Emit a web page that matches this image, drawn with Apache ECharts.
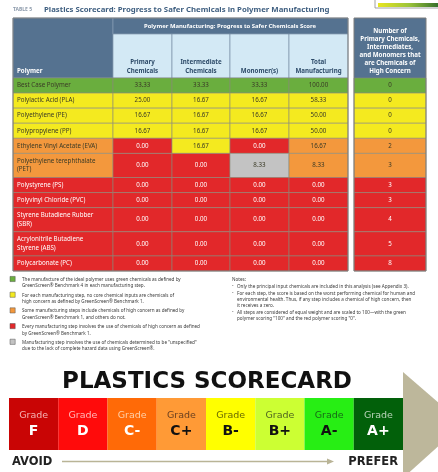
<!DOCTYPE html>
<html>
<head>
<meta charset="utf-8">
<script src="https://cdn.jsdelivr.net/npm/echarts@6/dist/echarts.min.js"></script>
<style>
  html, body { margin: 0; padding: 0; background: #fff; }
  #chart { width: 438px; height: 472px; }
</style>
</head>
<body>
<div id="chart"></div>
<script>
// ---- data ----
const polymers = [
  'Best Case Polymer',
  'Polylactic Acid (PLA)',
  'Polyethylene (PE)',
  'Polypropylene (PP)',
  'Ethylene Vinyl Acetate (EVA)',
  'Polyethylene terephthalate\n(PET)',
  'Polystyrene (PS)',
  'Polyvinyl Chloride (PVC)',
  'Styrene Butadiene Rubber\n(SBR)',
  'Acrylonitrile Butadiene\nStyrene (ABS)',
  'Polycarbonate (PC)'
];
const primaryScores      = [33.33, 25.00, 16.67, 16.67, 0.00, 0.00, 0.00, 0.00, 0.00, 0.00, 0.00];
const intermediateScores = [33.33, 16.67, 16.67, 16.67, 16.67, 0.00, 0.00, 0.00, 0.00, 0.00, 0.00];
const monomerScores      = [33.33, 16.67, 16.67, 16.67, 0.00, 8.33, 0.00, 0.00, 0.00, 0.00, 0.00];
const totalScores        = [100.00, 58.33, 50.00, 50.00, 16.67, 8.33, 0.00, 0.00, 0.00, 0.00, 0.00];
const highConcernCounts  = [0, 0, 0, 0, 2, 3, 3, 3, 4, 5, 8];

// rating codes: G green, Y yellow, O orange, R red, U unspecified
const rowRatings          = ['G', 'Y', 'Y', 'Y', 'O', 'O', 'R', 'R', 'R', 'R', 'R'];
const primaryRatings      = ['G', 'Y', 'Y', 'Y', 'R', 'R', 'R', 'R', 'R', 'R', 'R'];
const intermediateRatings = ['G', 'Y', 'Y', 'Y', 'Y', 'R', 'R', 'R', 'R', 'R', 'R'];
const monomerRatings      = ['G', 'Y', 'Y', 'Y', 'R', 'U', 'R', 'R', 'R', 'R', 'R'];

const scoreHeaders = ['Primary\nChemicals', 'Intermediate\nChemicals', 'Monomer(s)', 'Total\nManufacturing'];

const legendRatings = ['G', 'Y', 'O', 'R', 'U'];
const legendTexts = [
  'The manufacture of the ideal polymer uses green chemicals as defined by\nGreenScreen® Benchmark 4 in each manufacturing step.',
  'For each manufacturing step, no core chemical inputs are chemicals of\nhigh concern as defined by GreenScreen® Benchmark 1.',
  'Some manufacturing steps include chemicals of high concern as defined by\nGreenScreen® Benchmark 1, and others do not.',
  'Every manufacturing step involves the use of chemicals of high concern as defined\nby GreenScreen® Benchmark 1.',
  'Manufacturing step involves the use of chemicals determined to be "unspecified"\ndue to the lack of complete hazard data using GreenScreen®.'
];
const notes = [
  'Only the principal input chemicals are included in this analysis (see Appendix 3).',
  'For each step, the score is based on the worst performing chemical for human and\nenvironmental health. Thus, if any step includes a chemical of high concern, then\nit receives a zero.',
  'All steps are considered of equal weight and are scaled to 100\u2014with the green\npolymer scoring "100" and the red polymer scoring "0".'
];

const grades = ['F', 'D', 'C-', 'C+', 'B-', 'B+', 'A-', 'A+'];

// ---- styles ----
const RATING_FILL = { G: '#6aae3e', Y: '#f4ea1f', O: '#f3983d', R: '#e2282a', U: '#c3c3c3' };
const RATING_TEXT = { G: '#3a3a26', Y: '#3a3a26', O: '#3a3a26', R: '#ffffff', U: '#3a3a26' };
const GRADE_FILL = ['#c90505', '#ff0b0b', '#ff6a07', '#ff9a36', '#ffff00', '#ccff33', '#27ee14', '#02600a'];
const GRADE_WORD = ['#f5b4b4', '#ffb8b8', '#ffd0a8', '#6a4020', '#6a6a00', '#4f6420', '#176917', '#b9d3b9'];
const GRADE_LETTER = ['#ffffff', '#ffffff', '#ffffff', '#111111', '#111111', '#111111', '#111111', '#ffffff'];
const HEAD_DARK = '#557290';
const HEAD_LIGHT = '#d3e9f5';
const HEAD_TEXT = '#2c4a68';
const FONT = '"Noto Sans", sans-serif';

// table layout (grid units == px inside grid)
const T_LEFT = 13, T_TOP = 78, T_W = 413, T_H = 193;
const colEdges = [0, 100, 159, 217, 276, 335];
const rightCol = [341, 413];

// row extents from number of text lines
const rowUnits = polymers.map(p => p.split('\n').length > 1 ? 1.6 : 1);
const unitPx = T_H / rowUnits.reduce((a, b) => a + b, 0);
const rowEdges = [0];
rowUnits.forEach(u => rowEdges.push(rowEdges[rowEdges.length - 1] + u * unitPx));

const cells = [];
polymers.forEach((name, r) => {
  const y0 = rowEdges[r], y1 = rowEdges[r + 1];
  const cols = [
    { text: name, rating: rowRatings[r], align: 'left' },
    { text: primaryScores[r].toFixed(2), rating: primaryRatings[r] },
    { text: intermediateScores[r].toFixed(2), rating: intermediateRatings[r] },
    { text: monomerScores[r].toFixed(2), rating: monomerRatings[r] },
    { text: totalScores[r].toFixed(2), rating: rowRatings[r] }
  ];
  cols.forEach((c, i) => cells.push({ value: [colEdges[i], colEdges[i + 1], y0, y1], text: c.text, rating: c.rating, align: c.align || 'center' }));
  cells.push({ value: [rightCol[0], rightCol[1], y0, y1], text: String(highConcernCounts[r]), rating: rowRatings[r], align: 'center' });
});

// ---- graphics (headers, legend, notes, scorecard decorations) ----
const g = [];
function txt(x, y, text, o) {
  g.push({ type: 'text', x, y, silent: true, style: Object.assign({ text, fill: '#333', font: '6px ' + FONT, align: 'left', verticalAlign: 'middle' }, o || {}) });
}
// title
txt(13, 10, 'TABLE 5', { fill: '#8c9aab', font: 'bold 5px ' + FONT });
txt(44, 10, 'Plastics Scorecard: Progress to Safer Chemicals in Polymer Manufacturing', { fill: '#3f5f80', font: 'bold 7.8px ' + FONT });
// partial box at top right
g.push({ type: 'rect', shape: { x: 375, y: -2, width: 66, height: 10 }, style: { fill: '#fff', stroke: '#8a8a8a', lineWidth: 0.8 } });
g.push({ type: 'rect', shape: { x: 378, y: 3, width: 62, height: 4 }, style: { fill: new echarts.graphic.LinearGradient(0, 0, 1, 0, [{ offset: 0, color: '#e8e620' }, { offset: 0.5, color: '#9cc43a' }, { offset: 1, color: '#2f6a2a' }]) } });
// header blocks
g.push({ type: 'rect', shape: { x: 13, y: 18, width: 100, height: 60 }, style: { fill: HEAD_DARK, stroke: '#8da3b8', lineWidth: 0.6 } });
g.push({ type: 'rect', shape: { x: 113, y: 18, width: 235, height: 16 }, style: { fill: HEAD_DARK, stroke: '#8da3b8', lineWidth: 0.6 } });
scoreHeaders.forEach((h, i) => {
  const x0 = T_LEFT + colEdges[i + 1], x1 = T_LEFT + colEdges[i + 2];
  g.push({ type: 'rect', shape: { x: x0, y: 34, width: x1 - x0, height: 44 }, style: { fill: HEAD_LIGHT, stroke: '#6f88a0', lineWidth: 0.6 } });
  txt((x0 + x1) / 2, 75, h, { fill: HEAD_TEXT, font: 'bold 6.2px ' + FONT, align: 'center', verticalAlign: 'bottom', lineHeight: 8.5 });
});
g.push({ type: 'rect', shape: { x: T_LEFT + rightCol[0], y: 18, width: rightCol[1] - rightCol[0], height: 60 }, style: { fill: HEAD_DARK } });
txt(17, 71, 'Polymer', { fill: '#fff', font: 'bold 6.2px ' + FONT });
txt(230, 26, 'Polymer Manufacturing: Progress to Safer Chemicals Score', { fill: '#fff', font: 'bold 5.9px ' + FONT, align: 'center' });
txt(T_LEFT + (rightCol[0] + rightCol[1]) / 2, 75, 'Number of\nPrimary Chemicals,\nIntermediates,\nand Monomers that\nare Chemicals of\nHigh Concern',
  { fill: '#fff', font: 'bold 6.2px ' + FONT, align: 'center', verticalAlign: 'bottom', lineHeight: 8 });
// outer borders
g.push({ type: 'rect', z: 10, shape: { x: 13, y: 18, width: 335, height: 253 }, style: { fill: 'none', stroke: '#7c7c7c', lineWidth: 1 } });
g.push({ type: 'rect', z: 10, shape: { x: T_LEFT + rightCol[0], y: 18, width: rightCol[1] - rightCol[0], height: 253 }, style: { fill: 'none', stroke: '#7c7c7c', lineWidth: 1 } });
// legend
legendTexts.forEach((t, i) => {
  const y = 279 + i * 15.7;
  g.push({ type: 'rect', shape: { x: 10, y: y - 2.6, width: 5.2, height: 5.2 }, style: { fill: RATING_FILL[legendRatings[i]], stroke: '#555', lineWidth: 0.5 } });
  txt(22, y, t, { fill: '#3a3a3a', font: '4.6px ' + FONT, verticalAlign: 'top', lineHeight: 6.6, y: -2.8 });
});
// notes
txt(232, 280, 'Notes:', { fill: '#3a3a3a', font: '4.6px ' + FONT });
let ny = 283.5;
notes.forEach(n => {
  txt(232, ny, '-', { fill: '#3a3a3a', font: '4.6px ' + FONT, verticalAlign: 'top' });
  txt(237, ny, n, { fill: '#3a3a3a', font: '4.6px ' + FONT, verticalAlign: 'top', lineHeight: 6.1 });
  ny += n.split('\n').length * 6.1 + 0.8;
});
// scorecard decorations
txt(207, 382, 'PLASTICS SCORECARD', { fill: '#111', font: 'bold 23px "DejaVu Sans", sans-serif', align: 'center' });
g.push({ type: 'polygon', shape: { points: [[403, 372], [463, 424], [403, 478]] }, style: { fill: '#bdb79b' } });
txt(12, 462, 'AVOID', { fill: '#222', font: 'bold 11.5px "DejaVu Sans", sans-serif' });
txt(398, 462, 'PREFER', { fill: '#222', font: 'bold 11.5px "DejaVu Sans", sans-serif', align: 'right' });
g.push({ type: 'line', shape: { x1: 62, y1: 461.5, x2: 329, y2: 461.5 }, style: { stroke: '#b9b496', lineWidth: 1.3 } });
g.push({ type: 'polygon', shape: { points: [[327, 458.5], [334, 461.5], [327, 464.5]] }, style: { fill: '#b9b496' } });

const chart = echarts.init(document.getElementById('chart'), null, { renderer: 'canvas' });
chart.setOption({
  animation: false,
  grid: [
    { left: T_LEFT, top: T_TOP, width: T_W, height: T_H },
    { left: 9, top: 398, width: 394, height: 52 }
  ],
  xAxis: [
    { gridIndex: 0, type: 'value', min: 0, max: T_W, show: false },
    { gridIndex: 1, type: 'category', data: grades, show: false }
  ],
  yAxis: [
    { gridIndex: 0, type: 'value', min: 0, max: T_H, inverse: true, show: false },
    { gridIndex: 1, type: 'value', min: 0, max: 1, show: false }
  ],
  series: [
    {
      type: 'custom',
      xAxisIndex: 0, yAxisIndex: 0,
      encode: { x: [0, 1], y: [2, 3] },
      data: cells,
      renderItem: (params, api) => {
        const c = cells[params.dataIndex];
        const p0 = api.coord([api.value(0), api.value(2)]);
        const p1 = api.coord([api.value(1), api.value(3)]);
        return {
          type: 'group',
          children: [
            { type: 'rect', shape: { x: p0[0], y: p0[1], width: p1[0] - p0[0], height: p1[1] - p0[1] },
              style: { fill: RATING_FILL[c.rating], stroke: '#8b8b7a', lineWidth: 0.6 } },
            { type: 'text', style: {
                text: c.text,
                x: c.align === 'left' ? p0[0] + 4 : (p0[0] + p1[0]) / 2,
                y: (p0[1] + p1[1]) / 2,
                align: c.align, verticalAlign: 'middle',
                fill: RATING_TEXT[c.rating],
                font: '6.2px ' + FONT, lineHeight: 8.5 } }
          ]
        };
      }
    },
    {
      type: 'bar',
      xAxisIndex: 1, yAxisIndex: 1,
      barCategoryGap: '0%',
      data: grades.map((gr, i) => ({
        value: 1,
        itemStyle: { color: GRADE_FILL[i] },
        label: {
          show: true, position: 'inside',
          formatter: '{w|Grade}\n{l|' + gr + '}',
          rich: {
            w: { fontFamily: '"DejaVu Sans", sans-serif', fontSize: 9.5, color: GRADE_WORD[i], lineHeight: 14 },
            l: { fontFamily: '"DejaVu Sans", sans-serif', fontSize: 14, fontWeight: 'bold', color: GRADE_LETTER[i], lineHeight: 16 }
          }
        }
      }))
    }
  ],
  graphic: g
});
</script>
</body>
</html>
